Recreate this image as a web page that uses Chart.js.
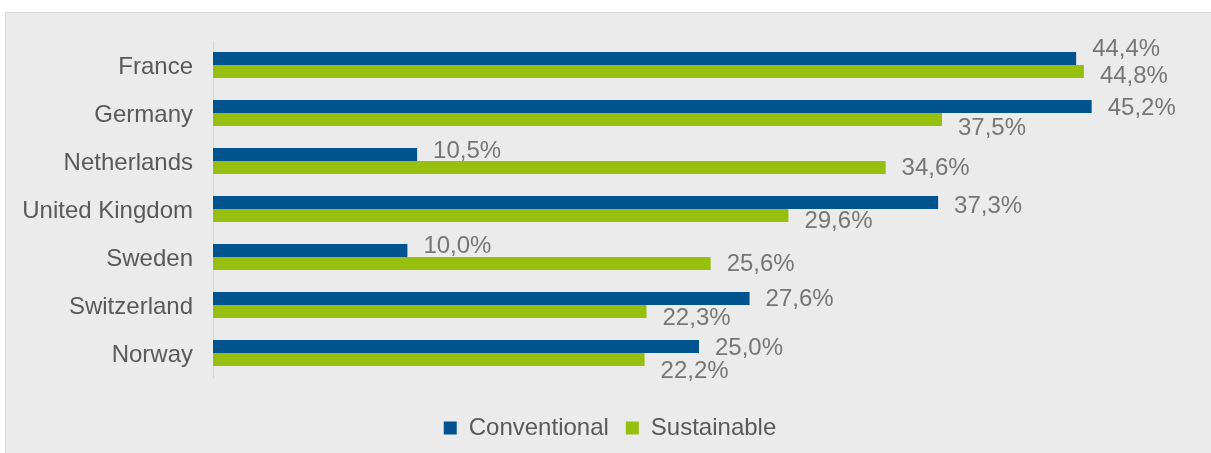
<!DOCTYPE html>
<html>
<head>
<meta charset="utf-8">
<script src="https://cdn.jsdelivr.net/npm/chart.js@4"></script>
<style>
  body { margin: 0; background: #fff; }
  #panel {
    position: absolute; left: 5px; top: 12px; width: 1220px; height: 460px;
    background: #ebebeb; border-top: 1px solid #d6d6d6; border-left: 1px solid #d6d6d6;
  }
  #wrap { position: absolute; left: 0; top: 0; width: 1211px; height: 453px; }
</style>
</head>
<body>
<div id="panel"></div>
<div id="wrap"><canvas id="barChart"></canvas></div>
<script>
const countries = ["France", "Germany", "Netherlands", "United Kingdom", "Sweden", "Switzerland", "Norway"];
const conventional = [44.4, 45.2, 10.5, 37.3, 10.0, 27.6, 25.0];
const sustainable = [44.8, 37.5, 34.6, 29.6, 25.6, 22.3, 22.2];

// vertical nudges for the value labels so they don't collide
const labelShift = [
  [-9, 2, -3, 4, -4, 1, 2],
  [5, 9, 1, 6, 1, 7, 12],
];

const FONT = "'Liberation Sans', Arial, sans-serif";

const valueLabels = {
  id: "valueLabels",
  afterDatasetsDraw(chart) {
    const ctx = chart.ctx;
    ctx.save();
    ctx.font = "24px " + FONT;
    ctx.fillStyle = "#767676";
    ctx.textAlign = "left";
    ctx.textBaseline = "middle";
    chart.data.datasets.forEach((ds, d) => {
      chart.getDatasetMeta(d).data.forEach((bar, i) => {
        const txt = ds.data[i].toFixed(1).replace(".", ",") + "%";
        ctx.fillText(txt, bar.x + 16, bar.y + labelShift[d][i]);
      });
    });
    ctx.restore();
  },
};

new Chart(document.getElementById("barChart"), {
  type: "bar",
  data: {
    labels: countries,
    datasets: [
      {
        label: "Conventional",
        data: conventional,
        backgroundColor: "#00538f",
        categoryPercentage: 0.54,
        barPercentage: 1,
      },
      {
        label: "Sustainable",
        data: sustainable,
        backgroundColor: "#97bf0d",
        categoryPercentage: 0.54,
        barPercentage: 1,
      },
    ],
  },
  options: {
    indexAxis: "y",
    responsive: true,
    maintainAspectRatio: false,
    animation: false,
    layout: { padding: { top: 41, right: 0, left: 9, bottom: 3 } },
    scales: {
      x: {
        min: 0,
        max: 50,
        ticks: { display: false },
        grid: { display: false },
        border: { display: false },
        afterFit: (scale) => { scale.height = 22; },
      },
      y: {
        grid: { display: false, drawTicks: false },
        border: { display: true, color: "#d6d6d6", width: 1 },
        ticks: { color: "#595959", font: { family: FONT, size: 24 }, padding: 20, labelOffset: 2 },
        afterFit: (scale) => { scale.width = 204; },
      },
      // empty right-hand strip so the plot stops short of the panel edge
      yRight: {
        type: "category",
        position: "right",
        labels: countries,
        ticks: { display: false },
        grid: { display: false },
        border: { display: false },
        afterFit: (scale) => { scale.width = 26; },
      },
    },
    plugins: {
      tooltip: { enabled: false },
      legend: {
        position: "bottom",
        labels: {
          color: "#595959",
          font: { family: FONT, size: 24 },
          boxWidth: 13,
          boxHeight: 13,
          padding: 17,
        },
      },
    },
  },
  plugins: [valueLabels],
});
</script>
</body>
</html>
